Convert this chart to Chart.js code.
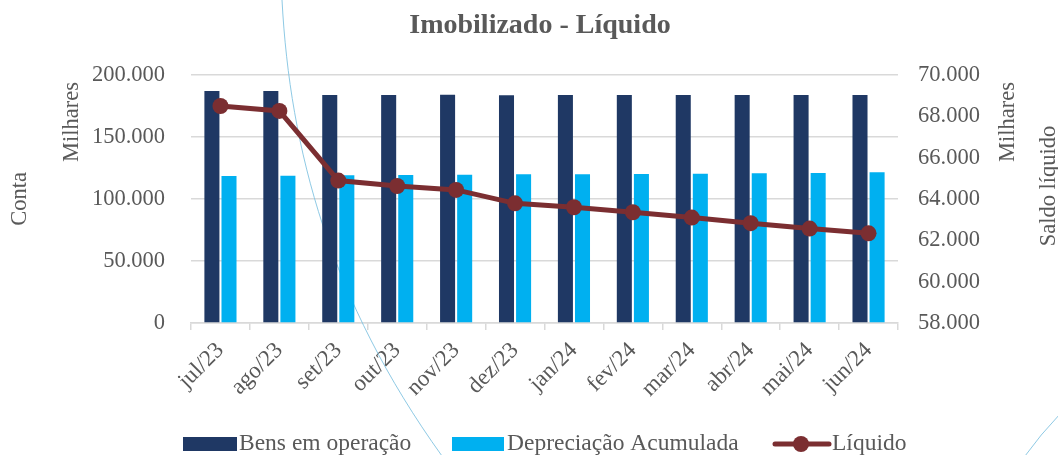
<!DOCTYPE html>
<html>
<head>
<meta charset="utf-8">
<script src="https://cdn.jsdelivr.net/npm/chart.js@4/dist/chart.umd.min.js"></script>
<style>
html,body{margin:0;padding:0;background:#fff;}
#wrap{width:1058px;height:455px;position:relative;}
</style>
</head>
<body>
<div id="wrap"><canvas id="c" width="1058" height="455"></canvas></div>
<script>
// Data (values in thousands - "Milhares")
const categories = ['jul/23','ago/23','set/23','out/23','nov/23','dez/23','jan/24','fev/24','mar/24','abr/24','mai/24','jun/24'];
const bensEmOperacao = [187100,187100,183900,183900,184100,183700,183900,183900,183900,183900,183900,183900];
const depreciacaoAcumulada = [118500,118800,119100,119400,119600,119900,119900,120200,120400,120700,121000,121500];
const liquido = [68500,68260,64890,64630,64440,63790,63600,63360,63100,62830,62570,62340];
const leftTicks = [0,50000,100000,150000,200000];
const rightTicks = [58000,60000,62000,64000,66000,68000,70000];

const FONT = '"Liberation Serif", "DejaVu Serif", serif';
const TXT = '#595959';
const NAVY = '#1F3864';
const CYAN = '#00B0F0';
const MAROON = '#7B2E31';

function fmt(v){ return v===0 ? '0' : String(Math.round(v)).replace(/\B(?=(\d{3})+(?!\d))/g,'.'); }

const decoPlugin = {
  id:'deco',
  beforeDatasetsDraw(chart){
    const ctx = chart.ctx;
    ctx.save();
    ctx.strokeStyle = 'rgba(130,195,225,0.9)';
    ctx.lineWidth = 1;
    ctx.beginPath();
    ctx.moveTo(282,0);
    ctx.bezierCurveTo(290,150,330,300,442,456);
    ctx.stroke();
    ctx.beginPath();
    ctx.moveTo(1060,414);
    ctx.quadraticCurveTo(1040,435,1025,456);
    ctx.stroke();
    ctx.restore();
  }
};

const textPlugin = {
  id:'texts',
  afterDraw(chart){
    const ctx = chart.ctx;
    ctx.save();
    ctx.fillStyle = TXT;
    // title
    ctx.font = 'bold 28px ' + FONT;
    ctx.textAlign = 'center';
    ctx.textBaseline = 'middle';
    ctx.fillText('Imobilizado - Líquido', 540, 26);
    // rotated axis texts
    ctx.font = '22.5px ' + FONT;
    function vtext(t,x,y){
      ctx.save(); ctx.translate(x,y); ctx.rotate(-Math.PI/2);
      ctx.textAlign='center'; ctx.textBaseline='middle'; ctx.fillText(t,0,0); ctx.restore();
    }
    vtext('Conta', 20, 199);
    vtext('Milhares', 72, 122);
    vtext('Milhares', 1008, 122);
    vtext('Saldo líquido', 1049, 186);
    // legend
    const ly = 444;
    ctx.fillStyle = NAVY; ctx.fillRect(183, ly-7, 54, 14);
    ctx.fillStyle = CYAN; ctx.fillRect(452, ly-7, 52, 14);
    ctx.strokeStyle = MAROON; ctx.lineWidth = 5; ctx.lineCap='round';
    ctx.beginPath(); ctx.moveTo(775, ly); ctx.lineTo(829, ly); ctx.stroke();
    ctx.fillStyle = MAROON; ctx.beginPath(); ctx.arc(801, ly, 8, 0, Math.PI*2); ctx.fill();
    ctx.fillStyle = TXT;
    ctx.font = '23.5px ' + FONT;
    ctx.textAlign = 'left'; ctx.textBaseline = 'middle';
    ctx.fillText('Bens em operação', 239, ly);
    ctx.fillText('Depreciação Acumulada', 507, ly);
    ctx.fillText('Líquido', 832, ly);
    ctx.restore();
  }
};

new Chart(document.getElementById('c'), {
  data: {
    labels: categories,
    datasets: [
      { type:'line', label:'Líquido', data: liquido, yAxisID:'y1', order:0,
        borderColor: MAROON, backgroundColor: MAROON, borderWidth:5,
        pointRadius:8, pointHoverRadius:8, pointBackgroundColor: MAROON, pointBorderWidth:0, tension:0 },
      { type:'bar', label:'Bens em operação', data: bensEmOperacao, yAxisID:'y', order:1,
        backgroundColor: NAVY, categoryPercentage:0.58, barPercentage:0.88 },
      { type:'bar', label:'Depreciação Acumulada', data: depreciacaoAcumulada, yAxisID:'y', order:1,
        backgroundColor: CYAN, categoryPercentage:0.58, barPercentage:0.88 }
    ]
  },
  options: {
    responsive:false,
    animation:false,
    devicePixelRatio:1,
    layout:{ padding:{ top:75, left:0, right:0, bottom:0 } },
    plugins:{ legend:{display:false}, title:{display:false}, tooltip:{enabled:false} },
    scales:{
      x:{
        offset:true,
        grid:{ display:true, drawOnChartArea:false, drawTicks:true, tickLength:7, color:'#d9d9d9', lineWidth:1.5, offset:true },
        border:{ display:true, color:'#d9d9d9', width:1.5 },
        ticks:{ color:TXT, font:{ family:FONT, size:23 }, minRotation:45, maxRotation:45, padding:7, autoSkip:false },
        afterFit(s){ s.height = 132; }
      },
      y:{
        position:'left', min:0, max:200000,
        afterBuildTicks(s){ s.ticks = leftTicks.map(v=>({value:v})); },
        grid:{ color:'#d9d9d9', lineWidth:1.5, drawTicks:false },
        border:{ display:false },
        ticks:{ color:TXT, font:{ family:FONT, size:22.5 }, padding:26, callback:(v)=>fmt(v) },
        afterFit(s){ s.width = 191; }
      },
      y1:{
        position:'right', min:58000, max:70000,
        afterBuildTicks(s){ s.ticks = rightTicks.map(v=>({value:v})); },
        grid:{ display:false, drawTicks:false },
        border:{ display:false },
        ticks:{ color:TXT, font:{ family:FONT, size:22.5 }, padding:20, callback:(v)=>fmt(v) },
        afterFit(s){ s.width = 160; }
      }
    }
  },
  plugins:[decoPlugin, textPlugin]
});
</script>
</body>
</html>
